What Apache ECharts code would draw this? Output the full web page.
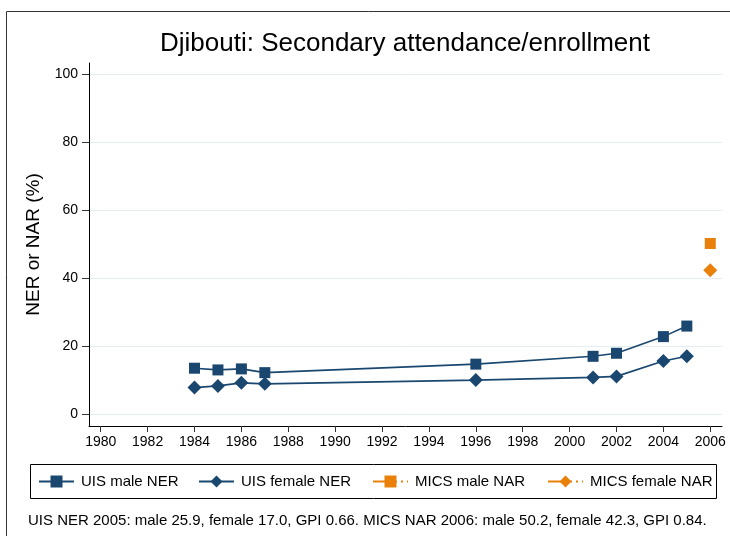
<!DOCTYPE html>
<html>
<head>
<meta charset="utf-8">
<script src="https://cdn.jsdelivr.net/npm/echarts@6/dist/echarts.min.js"></script>
<style>html,body{margin:0;padding:0;background:#fff}#c{width:730px;height:536px}</style>
</head>
<body>
<div id="c"></div>
<script>
var years = [1984, 1985, 1986, 1987, 1996, 2001, 2002, 2004, 2005];
var uisMale = [13.5, 13.0, 13.3, 12.2, 14.7, 17.0, 17.9, 22.8, 25.9];
var uisFemale = [7.8, 8.3, 9.2, 8.9, 10.0, 10.8, 11.1, 15.6, 17.0];
var micsYears = [2006];
var micsMale = [50.2];
var micsFemale = [42.3];
var xTicks = [1980, 1982, 1984, 1986, 1988, 1990, 1992, 1994, 1996, 1998, 2000, 2002, 2004, 2006];
var yTicks = [0, 20, 40, 60, 80, 100];

var NAVY = '#1a476f', ORANGE = '#e8800a';
var FONT = '"Liberation Sans", Arial, sans-serif';
function pairs(xs, ys) { return xs.map(function (x, i) { return [x, ys[i]]; }); }

var chart = echarts.init(document.getElementById('c'), null, {renderer: 'canvas'});
var legendBase = {
  top: 474, padding: 0, itemWidth: 35, itemHeight: 15, itemGap: 0,
  textStyle: {fontFamily: FONT, fontSize: 15, color: '#000', padding: [0, 0, 0, 2]},
  selectedMode: false
};
chart.setOption({
  animation: false,
  backgroundColor: '#fff',
  title: {
    text: 'Djibouti: Secondary attendance/enrollment',
    left: 405, top: 31, textAlign: 'center', padding: 0,
    textStyle: {fontFamily: FONT, fontSize: 26, fontWeight: 'normal', color: '#000'}
  },
  grid: {left: 89, right: 8, top: 63, bottom: 110, containLabel: false},
  xAxis: {
    type: 'value', min: 1979.5, max: 2006.5,
    axisLine: {show: true, onZero: false, lineStyle: {color: '#000', width: 1}},
    axisTick: {show: true, length: 6, lineStyle: {color: '#333'}, customValues: xTicks},
    axisLabel: {customValues: xTicks, margin: 9, fontFamily: FONT, fontSize: 14, color: '#000', formatter: function (v) { return String(v); }},
    splitLine: {show: false}
  },
  yAxis: {
    type: 'value', min: -3.5, max: 103.3,
    name: 'NER or NAR (%)', nameLocation: 'middle', nameGap: 40, nameRotate: 90,
    nameTextStyle: {fontFamily: FONT, fontSize: 19, color: '#000'},
    axisLine: {show: true, onZero: false, lineStyle: {color: '#000', width: 1}},
    axisTick: {show: true, length: 7, lineStyle: {color: '#333'}, customValues: yTicks},
    axisLabel: {customValues: yTicks, margin: 11, fontFamily: FONT, fontSize: 14, color: '#000'},
    splitLine: {show: true, lineStyle: {color: '#e4edf0', width: 1}}
  },
  legend: [
    Object.assign({}, legendBase, {left: 38, data: ['UIS male NER']}),
    Object.assign({}, legendBase, {left: 198, data: ['UIS female NER']}),
    Object.assign({}, legendBase, {left: 372, data: ['MICS male NAR']}),
    Object.assign({}, legendBase, {left: 547, data: ['MICS female NAR']})
  ],
  graphic: [
    {type: 'rect', shape: {x: 6.5, y: 11.5, width: 800, height: 600}, style: {fill: null, stroke: '#333', lineWidth: 1}, silent: true, z: -1},
    {type: 'rect', shape: {x: 30.5, y: 464.5, width: 686, height: 34}, style: {fill: null, stroke: '#000', lineWidth: 1}, silent: true},
    {type: 'text', x: 28, y: 521, style: {text: 'UIS NER 2005: male 25.9, female 17.0, GPI 0.66. MICS NAR 2006: male 50.2, female 42.3, GPI 0.84.', font: '15px ' + FONT, fill: '#000', textVerticalAlign: 'middle'}}
  ],
  series: [
    {name: 'UIS male NER', type: 'line', data: pairs(years, uisMale), symbol: 'rect', symbolSize: 11,
      itemStyle: {color: NAVY}, lineStyle: {color: NAVY, width: 1.6}},
    {name: 'UIS female NER', type: 'line', data: pairs(years, uisFemale), symbol: 'diamond', symbolSize: 14,
      itemStyle: {color: NAVY}, lineStyle: {color: NAVY, width: 1.6}},
    {name: 'MICS male NAR', type: 'line', data: pairs(micsYears, micsMale), symbol: 'rect', symbolSize: 11,
      itemStyle: {color: ORANGE}, lineStyle: {color: ORANGE, width: 1.6, type: [18, 4, 2, 4, 2, 4, 2, 100]}},
    {name: 'MICS female NAR', type: 'line', data: pairs(micsYears, micsFemale), symbol: 'diamond', symbolSize: 14,
      itemStyle: {color: ORANGE}, lineStyle: {color: ORANGE, width: 1.6, type: [18, 4, 2, 4, 2, 4, 2, 100]}}
  ]
});
</script>
</body>
</html>
